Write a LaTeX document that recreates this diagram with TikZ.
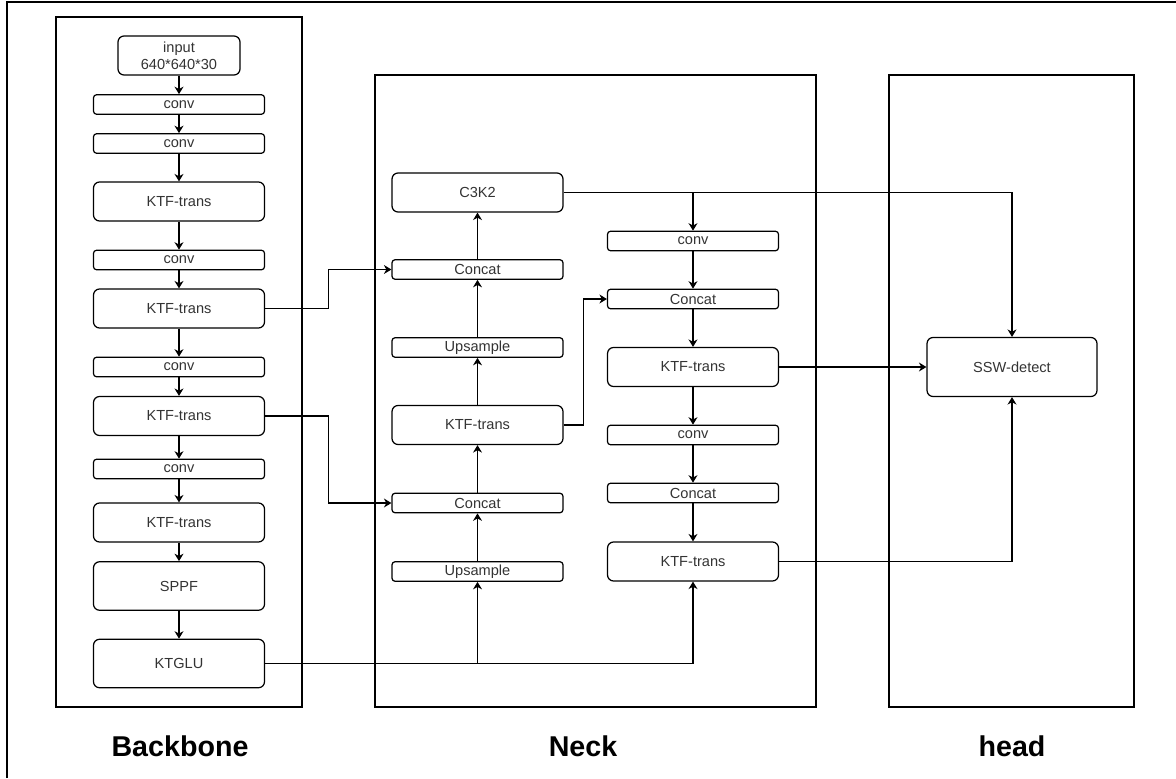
\documentclass[tikz,border=0pt]{standalone}
\usepackage{fontspec}
\setmainfont{Liberation Sans}
\usetikzlibrary{arrows.meta}
\definecolor{txtgray}{HTML}{333333}
\begin{document}
\begin{tikzpicture}[x=0.02cm, y=-0.02cm,
    every node/.style={draw, rounded corners=1.2mm, line width=0.7pt, inner sep=0pt,
        text=txtgray, font=\fontsize{8.3}{9.5}\selectfont, align=center},
    big/.style={minimum width=3.42cm, minimum height=0.78cm},
    slim/.style={minimum width=3.42cm, minimum height=0.39cm, rounded corners=0.6mm},
    tall/.style={minimum width=3.42cm, minimum height=0.97cm},
    title/.style={draw=none, text=black, font=\fontsize{16.3}{18}\selectfont\bfseries},
    arr/.style={-{Stealth[length=1.5mm, width=1.8mm]}, line width=0.6pt}]
    \useasboundingbox (0,0) rectangle (1176,778);
    % outer frame
    \draw[line width=0.8pt] (7,778) -- (7,2) -- (1176,2);
    % group frames
    \draw[line width=0.6pt] (56,17) rectangle (302,707);
    \draw[line width=0.6pt] (375,75) rectangle (816,707);
    \draw[line width=0.6pt] (889,75) rectangle (1134,707);

    % backbone
    \node[minimum width=2.44cm, minimum height=0.78cm] (in) at (179,55.5) {input\\640*640*30};
    \node[slim] (b1) at (179,104.5) {conv};
    \node[slim] (b2) at (179,143.5) {conv};
    \node[big] (b3) at (179,201.5) {KTF-trans};
    \node[slim] (b4) at (179,260) {conv};
    \node[big] (b5) at (179,308.5) {KTF-trans};
    \node[slim] (b6) at (179,367) {conv};
    \node[big] (b7) at (179,416) {KTF-trans};
    \node[slim] (b8) at (179,469) {conv};
    \node[big] (b9) at (179,522.5) {KTF-trans};
    \node[tall] (sppf) at (179,586) {SPPF};
    \node[tall] (glu) at (179,663.5) {KTGLU};

    % neck, left column
    \node[big] (c3) at (477.5,192.5) {C3K2};
    \node[slim] (cat1) at (477.5,269.5) {Concat};
    \node[slim] (up1) at (477.5,347.5) {Upsample};
    \node[big] (kl) at (477.5,425) {KTF-trans};
    \node[slim] (cat2) at (477.5,503) {Concat};
    \node[slim] (up2) at (477.5,571.5) {Upsample};

    % neck, right column
    \node[slim] (cv1) at (693,241) {conv};
    \node[slim] (cr1) at (693,299) {Concat};
    \node[big] (nk1) at (693,367) {KTF-trans};
    \node[slim] (cv2) at (693,435) {conv};
    \node[slim] (cr2) at (693,493) {Concat};
    \node[big] (nk2) at (693,561.5) {KTF-trans};

    % head
    \node[minimum width=3.4cm, minimum height=1.18cm] (ssw) at (1012,367) {SSW-detect};

    \node[title] (lb1) at (180,746) {Backbone};
    \node[title] (lb2) at (583,746) {Neck};
    \node[title] (lb3) at (1012,746) {head};

    % backbone chain
    \draw[arr] (in) -- (b1);
    \draw[arr] (b1) -- (b2);
    \draw[arr] (b2) -- (b3);
    \draw[arr] (b3) -- (b4);
    \draw[arr] (b4) -- (b5);
    \draw[arr] (b5) -- (b6);
    \draw[arr] (b6) -- (b7);
    \draw[arr] (b7) -- (b8);
    \draw[arr] (b8) -- (b9);
    \draw[arr] (b9) -- (sppf);
    \draw[arr] (sppf) -- (glu);

    % backbone to neck
    \draw[arr] (b5.east) -- ++(63,0) |- (cat1.west);
    \draw[arr] (b7.east) -- ++(63,0) |- (cat2.west);
    \draw[arr] (glu.east) -| (nk2.south);
    \draw[arr] (glu.east -| up2.south) -- (up2.south);

    % neck, upward path
    \draw[arr] (up2) -- (cat2);
    \draw[arr] (cat2) -- (kl);
    \draw[arr] (kl) -- (up1);
    \draw[arr] (up1) -- (cat1);
    \draw[arr] (cat1) -- (c3);
    \draw[arr] (kl.east) -- ++(20,0) |- (cr1.west);

    % neck, downward path
    \draw[arr] (c3.east -| cv1.north) -- (cv1.north);
    \draw[arr] (cv1) -- (cr1);
    \draw[arr] (cr1) -- (nk1);
    \draw[arr] (nk1) -- (cv2);
    \draw[arr] (cv2) -- (cr2);
    \draw[arr] (cr2) -- (nk2);

    % to head
    \draw[arr] (c3.east) -| (ssw.north);
    \draw[arr] (nk1.east) -- (ssw.west);
    \draw[arr] (nk2.east) -| (ssw.south);
\end{tikzpicture}
\end{document}
